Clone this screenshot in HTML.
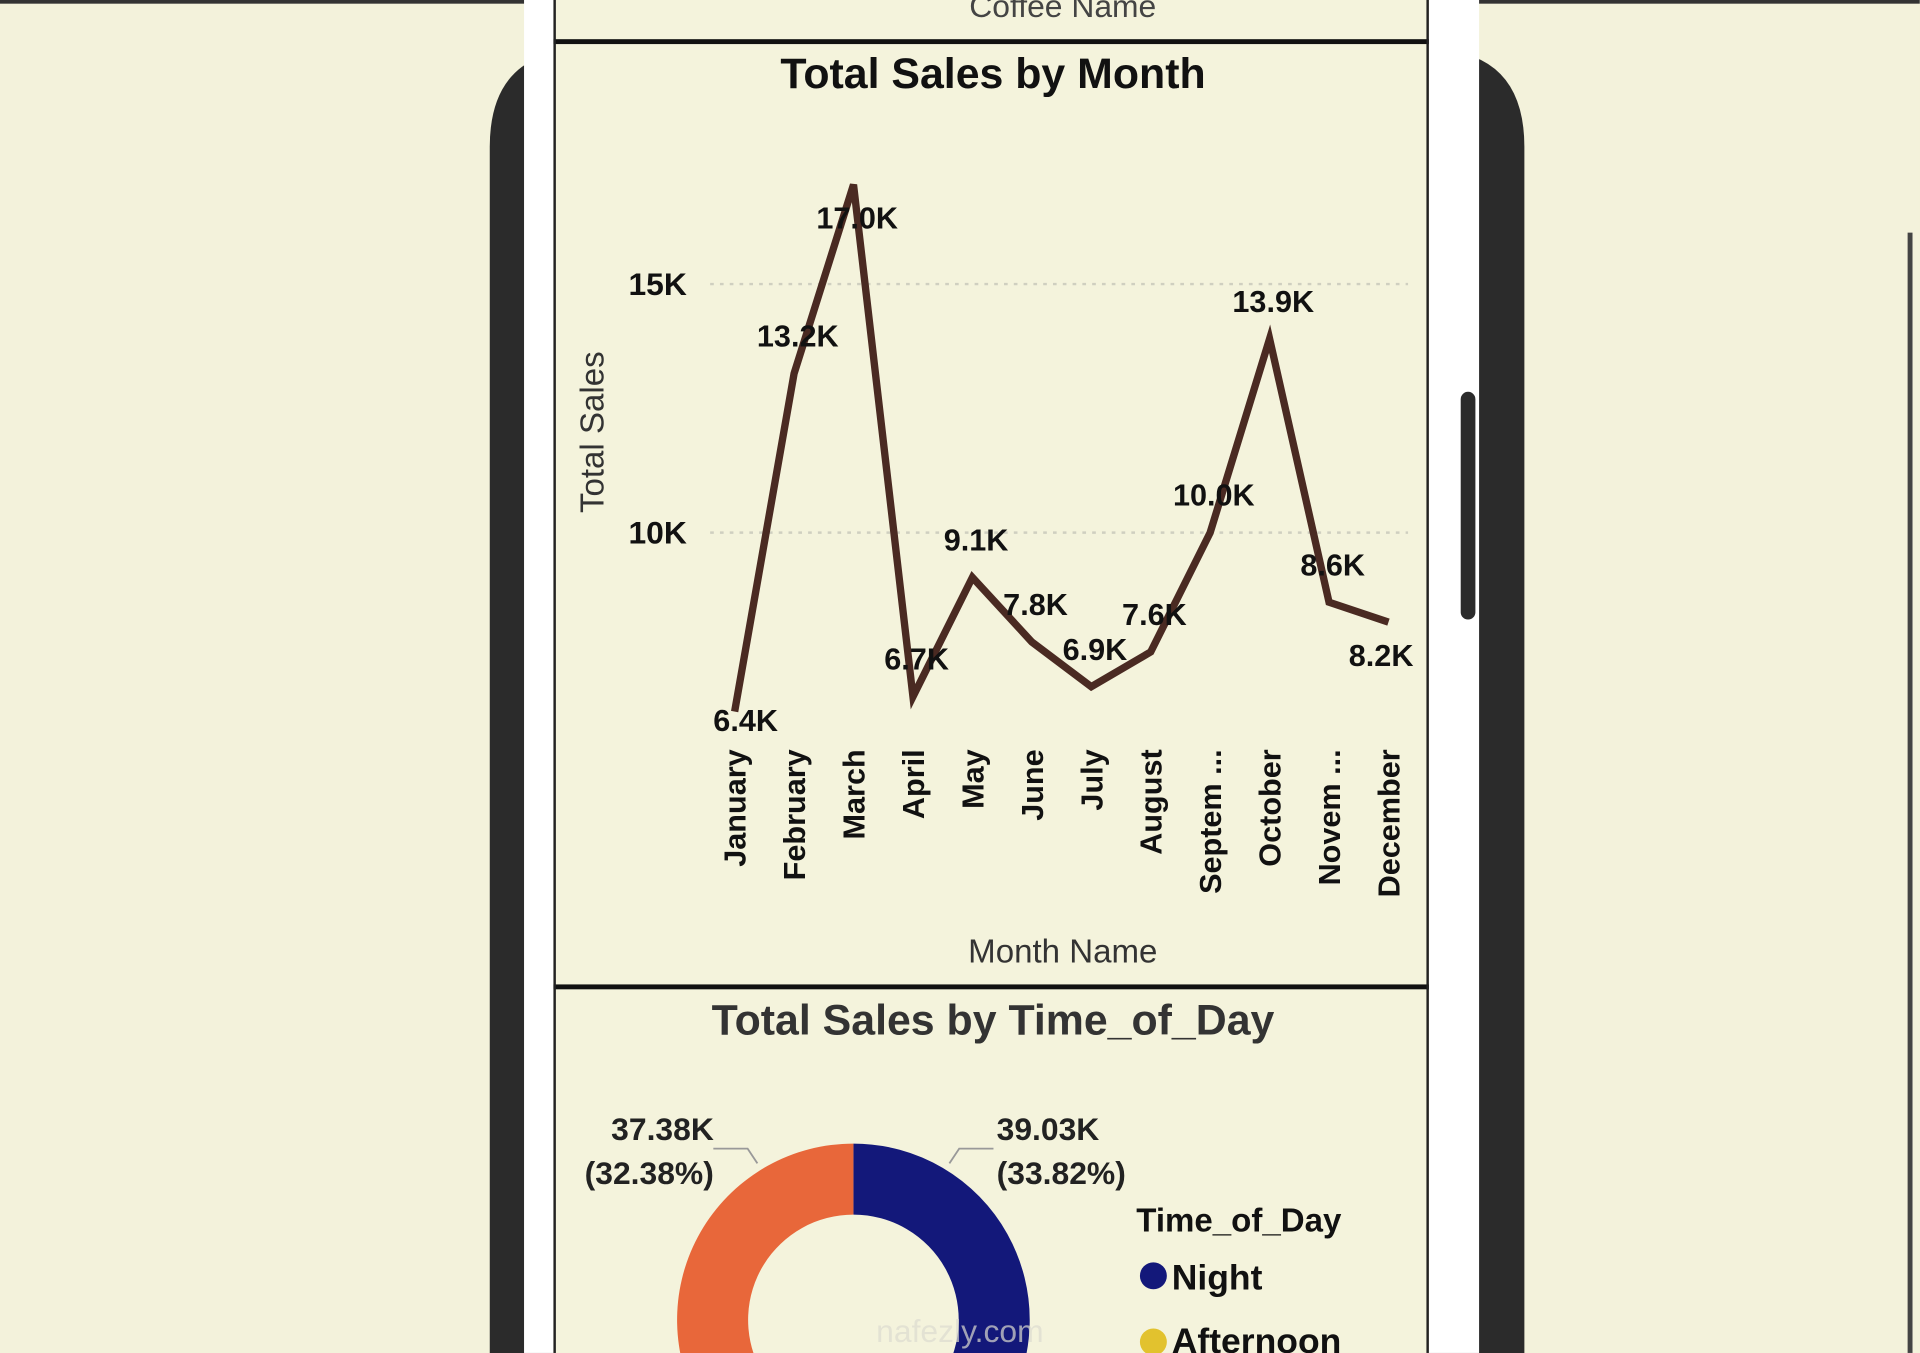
<!DOCTYPE html>
<html><head><meta charset="utf-8"><style>
html,body{margin:0;padding:0;width:1920px;height:1353px;overflow:hidden;background:#f3f2db;}
#wrap{position:absolute;left:0;top:0;width:1568px;height:1105px;overflow:hidden;transform:scale(1.2244);transform-origin:0 0;}
svg{display:block;}
svg text{font-family:"Liberation Sans Narrow","Liberation Sans",sans-serif;}
</style></head><body>
<div id="wrap">
<svg id="svg" width="1568" height="1105" viewBox="0 0 1568 1105">
  <rect x="0" y="0" width="1568" height="1105" fill="#f3f2db"/>
  <rect x="0" y="0" width="1568" height="3" fill="#333"/>
  <rect x="1558" y="190" width="4" height="915" fill="#444"/>
  <path d="M400,1105 V120 Q400,40 480,40 H1165 Q1245,40 1245,120 V1105 Z" fill="#2b2b2b"/>
  <rect x="428" y="0" width="780" height="1105" fill="#ffffff"/>
  <rect x="452" y="0" width="715" height="1105" fill="#f4f3dc"/>
  <rect x="1193" y="320" width="12" height="186" rx="6" fill="#2b2b2b"/>
  <text x="868" y="14" font-size="26" fill="#444" text-anchor="middle">Coffee Name</text>
  <rect x="452" y="32" width="715" height="4" fill="#111"/>
  <rect x="452" y="804" width="715" height="4" fill="#111"/>
  <rect x="452" y="0" width="2" height="1105" fill="#222"/>
  <rect x="1165" y="0" width="2" height="1105" fill="#222"/>
  <text x="811" y="72" font-size="35" font-weight="bold" fill="#111" text-anchor="middle">Total Sales by Month</text>
  <g id="line-chart"></g>
  <text x="868" y="786" font-size="27" fill="#333" text-anchor="middle">Month Name</text>
  <text transform="translate(493,353) rotate(-90)" font-size="27" fill="#333" text-anchor="middle">Total Sales</text>
  <text x="811" y="845" font-size="35" font-weight="bold" fill="#333" text-anchor="middle">Total Sales by Time_of_Day</text>
  <g id="donut"></g>
  <text x="928" y="1006" font-size="27" font-weight="bold" fill="#111">Time_of_Day</text>
  <circle cx="942" cy="1042" r="11" fill="#13187a"/>
  <text x="957" y="1053" font-size="29" font-weight="bold" fill="#111">Night</text>
  <circle cx="942" cy="1096" r="11" fill="#e2c22e"/>
  <text x="957" y="1105" font-size="29" font-weight="bold" fill="#111">Afternoon</text>
  <text x="784" y="1096" font-size="26" fill="#dcdcd0" text-anchor="middle" opacity="0.7">nafezly.com</text>
</svg>
</div>
<script>
const months=["January","February","March","April","May","June","July","August","Septem ...","October","Novem ...","December"];
const sales=[6.4,13.2,17.0,6.7,9.1,7.8,6.9,7.6,10.0,13.9,8.6,8.2];
const valueLabels=["6.4K","13.2K","17.0K","6.7K","9.1K","7.8K","6.9K","7.6K","10.0K","13.9K","8.6K","8.2K"];
const labelSide=["near","above","below","above","above","above","above","above","above","above","above","below"];
const yTicks=[10,15];
const yTickLabels=["10K","15K"];
const donutCats=["Night","Afternoon","Morning"];
const donutValues=[39.03,38.99,37.38];
const donutLabels=["39.03K","","37.38K"];
const donutPct=["(33.82%)","","(32.38%)"];
const donutColors=["#13187a","#e2c22e","#e8673a"];

const NS="http://www.w3.org/2000/svg";
function mk(t,a,p){const e=document.createElementNS(NS,t);for(const k in a)e.setAttribute(k,a[k]);p.appendChild(e);return e;}
const x=i=>600+i*(1134-600)/(months.length-1);
const y=v=>841-v*40.6;
const g=document.getElementById('line-chart');
yTicks.forEach((t,i)=>{
  const l=mk('line',{x1:580,x2:1150,y1:y(t),y2:y(t),stroke:'#cfcfc0','stroke-width':2,'stroke-dasharray':'3 5'},g);
  
  
  const tx=mk('text',{x:561,y:y(t)+9,'font-size':26,'font-weight':'bold','text-anchor':'end',fill:'#111'},g);
  tx.textContent=yTickLabels[i];
  
  
});
const path=mk('path',{d:sales.map((v,i)=>(i?'L':'M')+x(i)+','+y(v)).join(' '),fill:'none',stroke:'#4a2a22','stroke-width':6,'stroke-linejoin':'miter'},g);


sales.forEach((v,i)=>{
  const s=labelSide[i];
  const ly=s==='above'?y(v)-22:(s==='below'?y(v)+36:y(v)+16);
  const lx=s==='near'?x(i)+9:(i===months.length-1?x(i)-6:x(i)+3);
  const t=mk('text',{x:lx,y:ly,'font-size':25,'font-weight':'bold','text-anchor':'middle',fill:'#111'},g);
  t.textContent=valueLabels[i];
  
  
  const m=mk('text',{transform:'translate('+(x(i)+9)+',612) rotate(-90)','font-size':25,'font-weight':'bold','text-anchor':'end',fill:'#111'},g);
  m.textContent=months[i];
  
  
});
// donut
const dg=document.getElementById('donut');
const cx=697,cy=1078,R=144,r=86;
const total=donutValues.reduce((a,b)=>a+b,0);
let a0=0;
const pt=(a,rad)=>[cx+rad*Math.sin(a),cy-rad*Math.cos(a)];
donutValues.forEach((v,i)=>{
  const a1=a0+v/total*2*Math.PI;
  const [x1,y1]=pt(a0,R),[x2,y2]=pt(a1,R),[x3,y3]=pt(a1,r),[x4,y4]=pt(a0,r);
  const lg=(a1-a0)>Math.PI?1:0;
  const p=mk('path',{d:`M${x1},${y1} A${R},${R} 0 ${lg} 1 ${x2},${y2} L${x3},${y3} A${r},${r} 0 ${lg} 0 ${x4},${y4} Z`,fill:donutColors[i]},dg);
  
  
  if(donutLabels[i]){
    const mid=(a0+a1)/2;
    const right=Math.sin(mid)>0;
    const [ex,ey]=pt(right?0.55:-0.55,R+6);
    const lx=right?ex+8:ex-8, hx=right?lx+28:lx-28;
    const ln=mk('polyline',{points:`${ex},${ey} ${lx},${ey-12} ${hx},${ey-12}`,fill:'none',stroke:'#999','stroke-width':1.5},dg);
    
    
    const tx=right?814:583, anc=right?'start':'end';
    const t1=mk('text',{x:tx,y:931,'font-size':26,'font-weight':'bold','text-anchor':anc,fill:'#222'},dg);
    t1.textContent=donutLabels[i];
    
    
    const t2=mk('text',{x:tx,y:967,'font-size':26,'font-weight':'bold','text-anchor':anc,fill:'#222'},dg);
    t2.textContent=donutPct[i];
    
    
  }
  a0=a1;
});
</script>
</body></html>
